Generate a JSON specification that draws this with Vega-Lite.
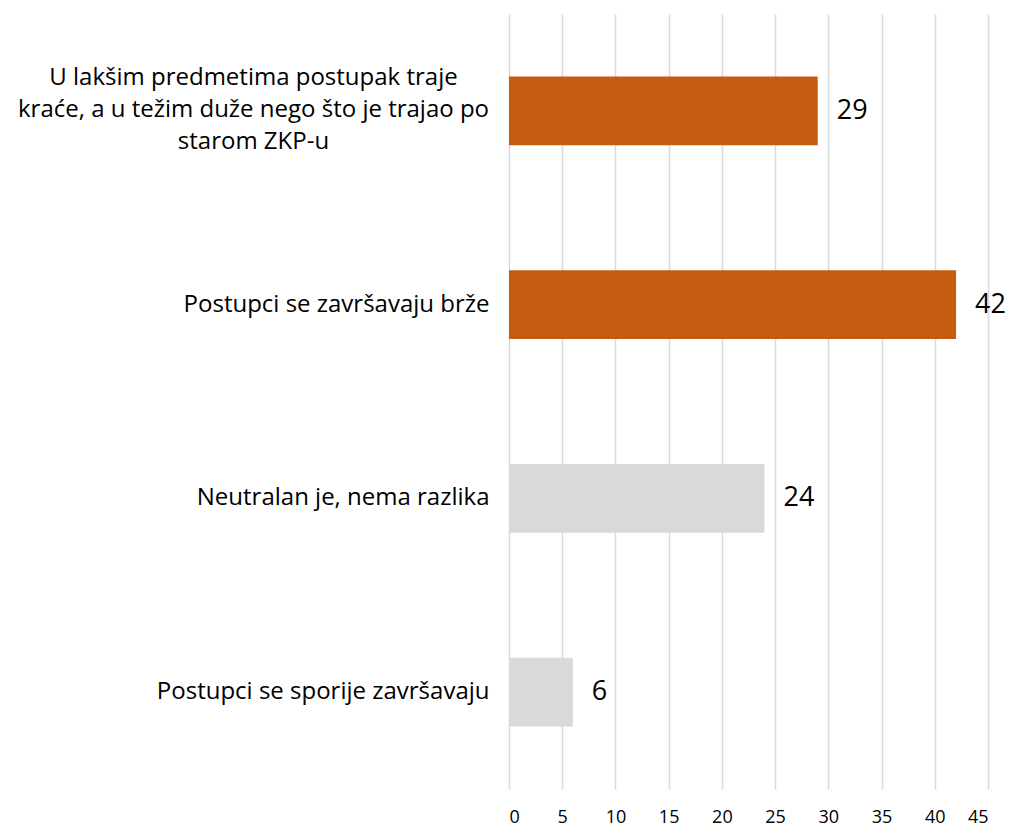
{
  "$schema": "https://vega.github.io/schema/vega-lite/v6.json",
  "autosize": "none",
  "width": 479,
  "height": 775,
  "padding": {"left": 509, "top": 14, "right": 21, "bottom": 40},
  "background": "white",
  "config": {"view": {"stroke": null}, "font": "Open Sans"},
  "data": {
    "values": [
      {"odgovor": "U lakšim predmetima postupak traje kraće, a u težim duže nego što je trajao po starom ZKP-u", "vrijednost": 29, "grupa": "A"},
      {"odgovor": "Postupci se završavaju brže", "vrijednost": 42, "grupa": "A"},
      {"odgovor": "Neutralan je, nema razlika", "vrijednost": 24, "grupa": "B"},
      {"odgovor": "Postupci se sporije završavaju", "vrijednost": 6, "grupa": "B"}
    ]
  },
  "encoding": {
    "y": {
      "field": "odgovor",
      "type": "nominal",
      "sort": null,
      "scale": {"paddingInner": 0.644, "paddingOuter": 0.322},
      "axis": {
        "title": null,
        "domain": false,
        "ticks": false,
        "labelFont": "Open Sans",
        "labelFontSize": 24,
        "labelColor": "#000000",
        "labelLimit": 0,
        "labelLineHeight": 32,
        "labelAlign": {"condition": {"test": "indexof(datum.value, 'U lak') == 0", "value": "center"}, "value": "right"},
        "labelPadding": {"condition": {"test": "indexof(datum.value, 'U lak') == 0", "value": 256}, "value": 20},
        "labelOffset": {"condition": {"test": "indexof(datum.value, 'U lak') == 0", "value": -33}, "value": 0},
        "labelExpr": "indexof(datum.value, 'U lak') == 0 ? ['U lakšim predmetima postupak traje', 'kraće, a u težim duže nego što je trajao po', 'starom ZKP-u'] : datum.label"
      }
    },
    "x": {
      "field": "vrijednost",
      "type": "quantitative",
      "scale": {"domain": [0, 45], "nice": false},
      "axis": {
        "title": null,
        "values": [0, 5, 10, 15, 20, 25, 30, 35, 40, 45],
        "domain": false,
        "ticks": false,
        "grid": true,
        "gridColor": "#D9D9D9",
        "gridWidth": 1.5,
        "labelFont": "Open Sans",
        "labelFontSize": 18,
        "labelColor": "#000000",
        "labelPadding": 19
      }
    }
  },
  "layer": [
    {
      "mark": {"type": "bar"},
      "encoding": {
        "color": {
          "field": "grupa",
          "type": "nominal",
          "scale": {"domain": ["A", "B"], "range": ["#C55A11", "#D9D9D9"]},
          "legend": null
        }
      }
    },
    {
      "mark": {"type": "text", "align": "left", "baseline": "middle", "dx": 19, "fontSize": 27, "font": "Open Sans", "color": "#000000"},
      "encoding": {"text": {"field": "vrijednost", "type": "quantitative"}}
    }
  ]
}
